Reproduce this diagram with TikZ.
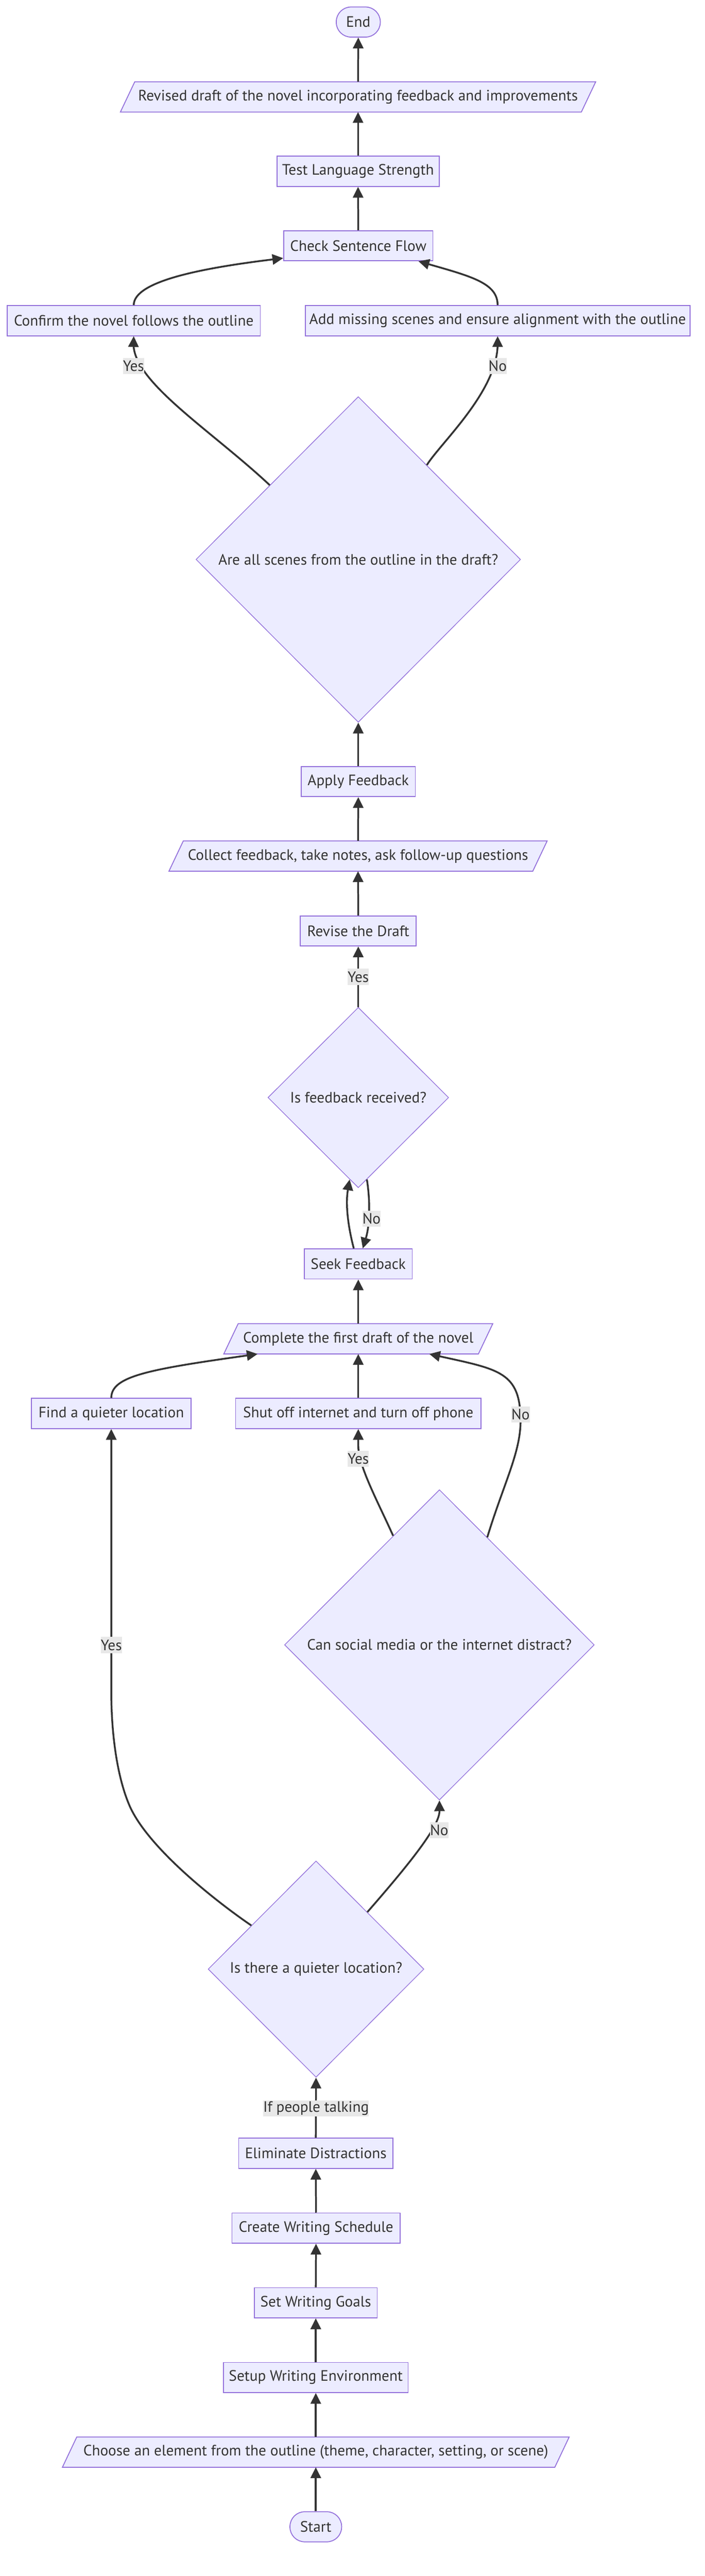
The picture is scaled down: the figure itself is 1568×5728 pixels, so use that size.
\documentclass[tikz,border=0pt]{standalone}
\usepackage{fontspec}
\setmainfont{PT Sans}
\usetikzlibrary{arrows.meta,shapes.geometric,calc}
\definecolor{nfill}{HTML}{ECECFF}
\definecolor{nstroke}{HTML}{9370DB}
\definecolor{ecol}{HTML}{333333}
\definecolor{lblbg}{HTML}{E8E8E8}
\pgfdeclarelayer{bg}
\pgfsetlayers{bg,main}
\tikzset{
 base/.style={font=\fontsize{33.5}{40}\selectfont, text=ecol, inner sep=0pt, minimum height=67pt},
 box/.style={base, rectangle, draw=nstroke, fill=nfill, line width=2pt},
 term/.style={box, rounded corners=33pt},
 iotext/.style={base, rectangle},
 iobox/.style={draw=nstroke, fill=nfill, line width=2pt},
 decision/.style={base, diamond, aspect=1, draw=nstroke, fill=nfill, line width=1.5pt},
 edge/.style={draw=ecol, line width=4pt, -{Triangle[length=24pt,width=23pt]}},
 elabel/.style={font=\fontsize{33.5}{40}\selectfont, text=ecol, fill=lblbg, inner xsep=0pt, inner ysep=0pt, minimum height=36pt},
}
\newcommand\iopath[1]{\begin{pgfonlayer}{bg}\path[iobox] ([xshift=16pt]#1.north west) -- ([xshift=16pt]#1.north east) -- ([xshift=-16pt]#1.south east) -- ([xshift=-16pt]#1.south west) -- cycle;\end{pgfonlayer}}
\begin{document}
\begin{tikzpicture}[x=1pt,y=1pt]
\useasboundingbox (0,0) rectangle (1568,-5728);
% nodes
\node[term, minimum width=98pt] (endn) at (797,-49) {End};
\node[iotext, minimum width=1025pt] (revised) at (796.5,-215.5) {Revised draft of the novel incorporating feedback and improvements};
\node[box, minimum width=361pt] (test) at (796.5,-381) {Test Language Strength};
\node[box, minimum width=332pt] (check) at (797,-546.5) {Check Sentence Flow};
\node[box, minimum width=563pt] (confirm) at (297.5,-713) {Confirm the novel follows the outline};
\node[box, minimum width=856pt] (addmiss) at (1107,-713) {Add missing scenes and ensure alignment with the outline};
\node[decision, minimum width=722pt, minimum height=724pt] (d1) at (797,-1244) {Are all scenes from the outline in the draft?};
\node[box, minimum width=254pt] (apply) at (797,-1738) {Apply Feedback};
\node[iotext, minimum width=809pt] (collect) at (796.5,-1903.5) {Collect feedback, take notes, ask follow-up questions};
\node[box, minimum width=258pt] (revise) at (797,-2070) {Revise the Draft};
\node[decision, minimum width=402pt, minimum height=401pt] (d2) at (797,-2440.5) {Is feedback received?};
\node[box, minimum width=240pt] (seek) at (797,-2810.5) {Seek Feedback};
\node[iotext, minimum width=566pt] (complete) at (797,-2977) {Complete the first draft of the novel};
\node[box, minimum width=355pt] (find) at (247.5,-3143) {Find a quieter location};
\node[box, minimum width=546pt] (shut) at (797,-3143) {Shut off internet and turn off phone};
\node[decision, minimum width=689pt, minimum height=690pt] (d3) at (977.5,-3657.5) {Can social media or the internet distract?};
\node[decision, minimum width=480pt, minimum height=481pt] (d4) at (703,-4378.5) {Is there a quieter location?};
\node[box, minimum width=343pt] (elim) at (702.5,-4788) {Eliminate Distractions};
\node[box, minimum width=374pt] (create) at (703,-4954.5) {Create Writing Schedule};
\node[box, minimum width=273pt] (goals) at (702.5,-5120.5) {Set Writing Goals};
\node[box, minimum width=411pt] (setup) at (702.5,-5286.5) {Setup Writing Environment};
\node[iotext, minimum width=1095pt] (choose) at (702.5,-5452.5) {Choose an element from the outline (theme, character, setting, or scene)};
\node[term, minimum width=115pt] (start) at (702.5,-5618.5) {Start};
\iopath{revised}
\iopath{collect}
\iopath{complete}
\iopath{choose}
% edges
\draw[edge] (start.north) -- (choose.south);
\draw[edge] (choose.north) -- (setup.south);
\draw[edge] (setup.north) -- (goals.south);
\draw[edge] (goals.north) -- (create.south);
\draw[edge] (create.north) -- (elim.south);
\draw[edge] (elim.north) -- (d4.south);
\draw[edge] (d4.146) .. controls (475,-4224) and (330,-4108) .. (289,-4017) .. controls (257,-3944) and (247.5,-3840) .. (247.5,-3760) -- (find.south);
\draw[edge] (d4.48) .. controls (916,-4138.5) and (978,-4060) .. (d3.south);
\draw[edge] (d3.113) .. controls (842,-3342) and (797,-3260) .. (797,-3215) -- (shut.south);
\draw[edge] (d3.66) .. controls (1120,-3300) and (1158,-3230) .. (1158,-3160) .. controls (1158,-3050) and (1110,-3045) .. ([xshift=158pt]complete.south);
\draw[edge] (find.north) .. controls (247.5,-3060) and (330,-3045) .. ([xshift=-224pt]complete.south);
\draw[edge] (shut.north) -- (complete.south);
\draw[edge] (complete.north) -- (seek.south);
\draw[edge] ([xshift=-10pt]seek.north) .. controls (775,-2730) and (768,-2680) .. (d2.264);
\draw[edge] (d2.-84) .. controls (823,-2665) and (824,-2720) .. ([xshift=10pt]seek.north);
\draw[edge] (d2.north) -- (revise.south);
\draw[edge] (revise.north) -- (collect.south);
\draw[edge] (collect.north) -- (apply.south);
\draw[edge] (apply.north) -- (d1.south);
\draw[edge] (d1.140) .. controls (470,-957) and (297,-850) .. (297,-765) -- (confirm.south);
\draw[edge] (d1.54) .. controls (980,-985) and (1107,-870) .. (1107,-765) -- (addmiss.south);
\draw[edge] (confirm.north) .. controls (297.5,-625) and (450,-596) .. ([yshift=7pt]check.south west);
\draw[edge] (addmiss.north) .. controls (1107,-630) and (1050,-615) .. ([xshift=-33pt]check.south east);
\draw[edge] (check.north) -- (test.south);
\draw[edge] (test.north) -- (revised.south);
\draw[edge] (revised.north) -- (endn.south);
% edge labels
\node[elabel] (lbl1) at (703,-4688) {If people talking};
\node[elabel] (lbl2) at (247.5,-3658) {Yes};
\node[elabel] (lbl3) at (977,-4070) {No};
\node[elabel] (lbl4) at (797,-3244) {Yes};
\node[elabel] (lbl5) at (1158,-3145) {No};
\node[elabel] (lbl6) at (826.5,-2710) {No};
\node[elabel] (lbl7) at (797,-2172) {Yes};
\node[elabel] (lbl8) at (297,-814) {Yes};
\node[elabel] (lbl9) at (1107,-814) {No};
\end{tikzpicture}
\end{document}
